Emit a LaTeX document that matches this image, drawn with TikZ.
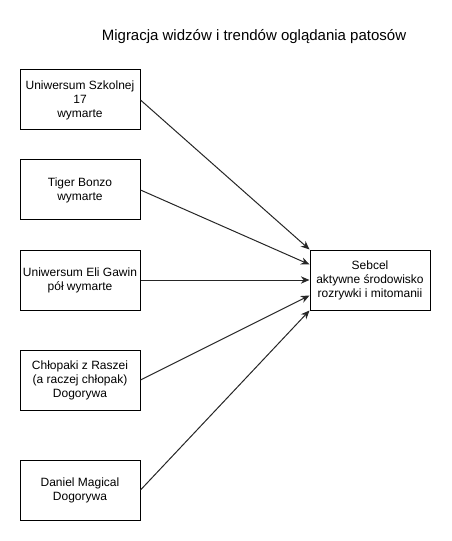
\documentclass[tikz,border=0pt]{standalone}
\usepackage{fontspec}
\setmainfont{Liberation Sans}
\usetikzlibrary{arrows.meta, positioning}

\begin{document}
\begin{tikzpicture}[
  x=0.75pt, y=-0.75pt,
  >={Stealth[length=6.5pt, width=5.5pt]},
  srcbox/.style={draw, line width=0.75pt, align=center, minimum width=90pt,
                 minimum height=45pt, inner sep=2pt,
                 font=\fontsize{9}{10.5}\selectfont},
  arrow/.style={->, line width=0.75pt, draw=black!85}
]
\useasboundingbox (0,0) rectangle (451,541);

%% -- Tytul -----------------------------------------------------------
\node[font=\fontsize{11.25}{13}\selectfont] (title) at (254,37)
  {Migracja widzów i trendów oglądania patosów};

%% -- Zrodla ----------------------------------------------------------
\node[srcbox] (szkolnej) at (80,100) {Uniwersum Szkolnej\\17\\wymarte};
\node[srcbox] (bonzo)    at (80,190) {Tiger Bonzo\\wymarte};
\node[srcbox] (gawin)    at (80,280) {Uniwersum Eli Gawin\\pół wymarte};
\node[srcbox] (raszei)   at (80,380) {Chłopaki z Raszei\\(a raczej chłopak)\\Dogorywa};
\node[srcbox] (magical)  at (80,490) {Daniel Magical\\Dogorywa};

%% -- Cel -------------------------------------------------------------
\node[srcbox] (sebcel) at (370,280)
  {Sebcel\\aktywne środowisko\\rozrywki i mitomanii};

%% -- Strzalki --------------------------------------------------------
\draw[arrow] (szkolnej.east) -- (sebcel.north west);
\draw[arrow] (bonzo.east)    -- ([yshift=-11.25pt]sebcel.north west);
\draw[arrow] (gawin.east)    -- (sebcel.west);
\draw[arrow] (raszei.east)   -- ([yshift=11.25pt]sebcel.south west);
\draw[arrow] (magical.east)  -- (sebcel.south west);

\end{tikzpicture}
\end{document}
